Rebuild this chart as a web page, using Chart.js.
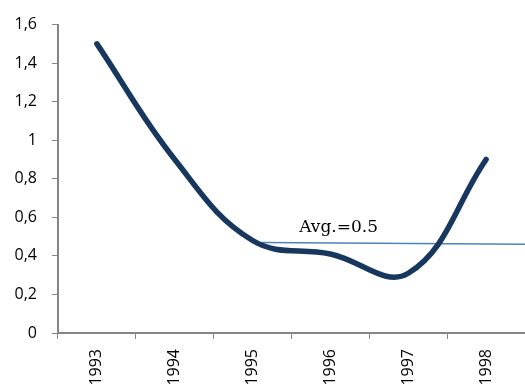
<!DOCTYPE html>
<html>
<head>
<meta charset="utf-8">
<script src="https://cdn.jsdelivr.net/npm/chart.js@4"></script>
<style>
  html, body { margin: 0; padding: 0; background: #fff; overflow: hidden; }
  #wrap { width: 525px; height: 395px; }
</style>
</head>
<body>
<div id="wrap"><canvas id="avgChart" width="525" height="395"></canvas></div>
<script>
const years = ['1993', '1994', '1995', '1996', '1997', '1998'];
const values = [1.5, 0.9, 0.48, 0.41, 0.31, 0.9];
// average line: start/end positions on the category index axis and its values
const avgX = [2.12, 5.5];
const avgY = [0.47, 0.46];
const avgLabel = 'Avg.=0.5';
const yTicks = [0, 0.2, 0.4, 0.6, 0.8, 1, 1.2, 1.4, 1.6];

const axisGray = '#868686';
const tickFont = { family: "'Open Sans', sans-serif", size: 16 };

const avgText = {
  id: 'avgText',
  afterDatasetsDraw(chart) {
    const c = chart.ctx;
    const x = chart.scales.x2.getPixelForValue(2.6);
    const y = chart.scales.y.getPixelForValue(avgY[0]) - 6;
    c.save();
    c.font = '17px "DejaVu Serif"';
    c.fillStyle = '#000';
    c.textBaseline = 'bottom';
    c.fillText(avgLabel, x, y);
    c.restore();
  }
};

const ctx = document.getElementById('avgChart').getContext('2d');
const chart = new Chart(ctx, {
  type: 'line',
  data: {
    labels: years,
    datasets: [
      {
        data: values,
        borderColor: '#17375e',
        borderWidth: 5.5,
        borderCapStyle: 'round',
        tension: 0.4,
        pointRadius: 0,
        fill: false
      },
      {
        data: avgX.map((x, i) => ({ x: x, y: avgY[i] })),
        xAxisID: 'x2',
        borderColor: '#4f81bd',
        borderWidth: 1.5,
        pointRadius: 0,
        tension: 0,
        fill: false
      }
    ]
  },
  options: {
    responsive: false,
    animation: false,
    layout: { padding: { left: 0, top: 21, right: 0, bottom: 0 } },
    plugins: { legend: { display: false }, tooltip: { enabled: false } },
    scales: {
      x: {
        offset: true,
        afterFit: axis => { axis.height = 62; },
        grid: { offset: true, drawOnChartArea: false, color: axisGray, tickLength: 6 },
        border: { color: axisGray, width: 2 },
        ticks: { color: '#000', font: tickFont, minRotation: 90, maxRotation: 90, padding: 10 }
      },
      x2: {
        type: 'linear',
        display: false,
        min: -0.5,
        max: 5.5
      },
      y: {
        min: 0,
        max: 1.6,
        afterFit: axis => { axis.width = 58; },
        afterBuildTicks: axis => { axis.ticks = yTicks.map(v => ({ value: v })); },
        grid: { drawOnChartArea: false, color: axisGray, tickLength: 6 },
        border: { color: axisGray, width: 2 },
        ticks: {
          color: '#000',
          font: tickFont,
          padding: 15,
          callback: v => String(Math.round(v * 10) / 10).replace('.', ',')
        }
      }
    }
  },
  plugins: [avgText]
});
</script>
</body>
</html>
